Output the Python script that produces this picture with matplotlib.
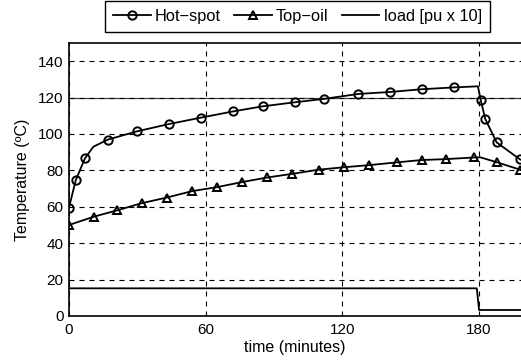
import numpy as np
import matplotlib.pyplot as plt

plt.rcParams['font.family'] = ['Liberation Sans', 'DejaVu Sans']

# hot-spot temperature (markers on all but the knee / peak points)
hs_time = [0, 3, 7, 10.7, 17, 30, 44, 58, 72, 85, 99, 112, 127, 141, 155, 169, 179.5, 180.7, 182.7, 187.7, 198, 200]
hs_temp = [59.6, 74.7, 86.6, 93, 96.9, 101.5, 105.5, 109, 112.4, 115.2, 117.4, 119.3, 122, 123.1, 124.6, 125.6, 126.2, 118.7, 108.3, 95.4, 86, 85]
hs_marks = [0, 1, 2, 4, 5, 6, 7, 8, 9, 10, 11, 12, 13, 14, 15, 17, 18, 19, 20]

# top-oil temperature
to_time = [0, 11, 21, 32, 43, 54, 65, 76, 87, 98, 109.6, 120.5, 131.8, 143.8, 154.8, 165.5, 177.8, 180.5, 187.7, 198, 200]
to_temp = [50, 54.6, 58, 62, 65.1, 68.6, 70.8, 73.6, 76.1, 78.1, 80.4, 81.7, 82.9, 84.4, 85.7, 86.2, 87.1, 87.2, 84.5, 80.4, 79.6]
to_marks = [0, 1, 2, 3, 4, 5, 6, 7, 8, 9, 10, 11, 12, 13, 14, 15, 16, 18, 19]

# load, pu x 10
load_time = [0, 179, 180, 200]
load_val = [15.2, 15.2, 3.3, 3.3]

fig = plt.figure(figsize=(5.21, 3.61), dpi=100)
ax = fig.add_axes([0.1324, 0.1247, 0.8676, 0.7562])

lw = 1.3
ax.plot(hs_time, hs_temp, color='black', lw=lw, marker='o', ms=6, mfc='none', mew=1.4,
        markevery=hs_marks, label='Hot\u2212spot', zorder=3)
ax.plot(to_time, to_temp, color='black', lw=lw, marker='^', ms=6, mfc='none', mew=1.4,
        markevery=to_marks, label='Top\u2212oil', zorder=3)
ax.plot(load_time, load_val, color='black', lw=lw, label='load [pu x 10]', zorder=3)

ax.set_xlim(0, 198.4)
ax.set_ylim(0, 150)
ax.set_xticks([0, 60, 120, 180])
ax.set_yticks([0, 20, 40, 60, 80, 100, 120, 140])
ax.grid(True, color='black', lw=0.8, linestyle=(0, (4.5, 4.5)))
ax.axhline(120, color='#444444', lw=0.9, zorder=1)
ax.tick_params(direction='in', length=0, labelsize=11, colors='black')
ax.tick_params(axis='x', pad=5)
ax.tick_params(axis='y', pad=4)
ax.spines['right'].set_visible(False)
for s in ['left', 'top', 'bottom']:
    ax.spines[s].set_linewidth(1.2)

ax.set_xlabel('time (minutes)', fontsize=11.5, labelpad=2)
ax.set_ylabel('Temperature (\u00baC)', fontsize=11.5, labelpad=6)

leg = fig.legend(loc='upper center', bbox_to_anchor=(0.571, 1.0), ncol=3, fontsize=11.8,
                 frameon=True, fancybox=False, edgecolor='black', framealpha=1,
                 handlelength=2.3, handletextpad=0.25, columnspacing=0.8,
                 borderpad=0.5, borderaxespad=0.05)
leg.get_frame().set_linewidth(1.0)

fig.savefig('out.png', dpi=100)
